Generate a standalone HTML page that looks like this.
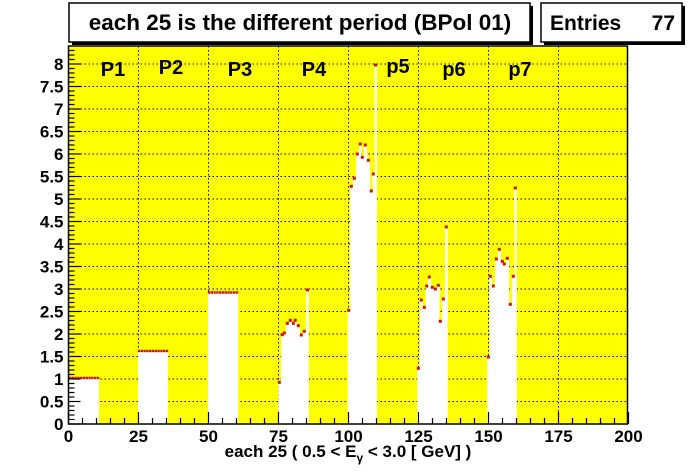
<!DOCTYPE html>
<html><head><meta charset="utf-8">
<style>
html,body{margin:0;padding:0;background:#fff;width:696px;height:472px;overflow:hidden}
svg text{font-family:"Liberation Sans",sans-serif;font-weight:bold}
</style></head><body>
<svg id="s" width="696" height="472" viewBox="0 0 696 472" xmlns="http://www.w3.org/2000/svg">
<rect x="0" y="0" width="696" height="472" fill="#fff"/>
<rect x="72" y="6" width="461" height="39" fill="#000"/>
<rect x="69" y="3" width="461" height="39" fill="#fff" stroke="#000" stroke-width="1.5"/>
<text x="300" y="30" font-size="22.5" text-anchor="middle">each 25 is the different period (BPol 01)</text>
<rect x="544" y="6" width="141" height="39" fill="#000"/>
<rect x="541" y="3" width="141" height="39" fill="#fff" stroke="#000" stroke-width="1.5"/>
<text x="550" y="30" font-size="21">Entries</text>
<text x="675" y="30" font-size="21" text-anchor="end">77</text>
<rect x="68.5" y="46" width="559" height="378" fill="#ffff00"/>
<g id="grid" stroke="#000" stroke-width="1" stroke-dasharray="1.5,2.5"></g>
<g id="fills" fill="#fff"></g>
<g id="pts" fill="#d01010"></g>
<rect x="68.5" y="46" width="559" height="378" fill="none" stroke="#000" stroke-width="1.5"/>
<g id="ticks" stroke="#000" stroke-width="1.2"></g>
<g id="labels" font-size="17"></g>
<text x="113" y="76" font-size="20" text-anchor="middle">P1</text>
<text x="171" y="74" font-size="20" text-anchor="middle">P2</text>
<text x="240" y="76" font-size="20" text-anchor="middle">P3</text>
<text x="314" y="76" font-size="20" text-anchor="middle">P4</text>
<text x="398" y="73" font-size="20" text-anchor="middle">p5</text>
<text x="454" y="76" font-size="20" text-anchor="middle">p6</text>
<text x="520" y="76" font-size="20" text-anchor="middle">p7</text>
<text x="348" y="457" font-size="17" text-anchor="middle">each 25 ( 0.5 &lt; E<tspan font-size="12" dy="5">γ</tspan><tspan dy="-5"> &lt; 3.0 [ GeV] )</tspan></text>
</svg>
<script>
var NS="http://www.w3.org/2000/svg";
function el(p,t,a){var e=document.createElementNS(NS,t);for(var k in a)e.setAttribute(k,a[k]);document.getElementById(p).appendChild(e);return e;}
var X0=68.5,Y0=424,SX=2.8,SY=45,XR=627.5,YT=46;
for(var v=0.5;v<=8.01;v+=0.5){var y=Y0-v*SY;el("grid","line",{x1:X0,x2:XR,y1:y,y2:y});}
for(var u=25;u<200;u+=25){var x=X0+u*SX;el("grid","line",{x1:x,x2:x,y1:YT,y2:Y0});}
for(var i=0;i<=83;i++){var y=Y0-i*0.1*SY;var L=(i%5==0)?12:6;el("ticks","line",{x1:X0,x2:X0+L,y1:y,y2:y});}
for(var i=0;i<=40;i++){var x=X0+i*5*SX;var L=(i%5==0)?12:6;el("ticks","line",{x1:x,x2:x,y1:Y0,y2:Y0-L});}
for(var v=0;v<=8;v+=0.5){var t=el("labels","text",{x:X0-5,y:Y0-v*SY+6,"text-anchor":"end"});t.textContent=(v%1==0)?v:v.toFixed(1);}
for(var u=0;u<=200;u+=25){var t=el("labels","text",{x:X0+u*SX,y:442,"text-anchor":"middle"});t.textContent=u;}
function flat(x1,x2,y){el("fills","rect",{x:x1,y:y,width:x2-x1,height:Y0-y});for(var x=x1+1;x<x2;x+=2.8)el("pts","rect",{x:x-1.2,y:y-1.2,width:2.4,height:2.4});}
flat(69,99,378);flat(138,168,351);flat(208,238,292.5);
function grp(P){var d="M"+(P[0][0]-1)+","+Y0;for(var i=0;i<P.length;i++){d+=" L"+(P[i][0]-1)+","+P[i][1]+" L"+(P[i][0]+1.5)+","+P[i][1];}d+=" L"+(P[P.length-1][0]+1.5)+","+Y0+"Z";el("fills","path",{d:d});P.forEach(function(p){el("pts","rect",{x:p[0]-1.5,y:p[1]-1.5,width:3,height:3});});}
grp([[279.3,382.3],[282.3,334.7],[284.3,333],[287.3,323.3],[290.3,320.3],[293.3,323.3],[295.3,320.3],[298.3,325.7],[301.3,335],[304.3,331.3],[307.3,290]]);
grp([[348.7,310.3],[351.3,186.3],[354.3,178.3],[357.3,154],[360.3,144],[362.3,157.3],[365.3,145],[368.3,160.3],[371.3,191],[373.3,174],[375.5,65]]);
grp([[418.3,368.3],[421.3,300],[424.3,307.3],[426.7,286],[429.3,277],[432.3,287.3],[435.3,289],[438.3,285.3],[440.3,321.3],[443.3,299],[446.3,227]]);
grp([[488.3,357],[490.3,276.3],[493.3,286],[496.3,259],[499.3,249.3],[502.3,261.3],[504.3,264],[507.3,258.3],[510.3,304.3],[513.3,276.3],[515.3,188]]);
</script>
</body></html>
